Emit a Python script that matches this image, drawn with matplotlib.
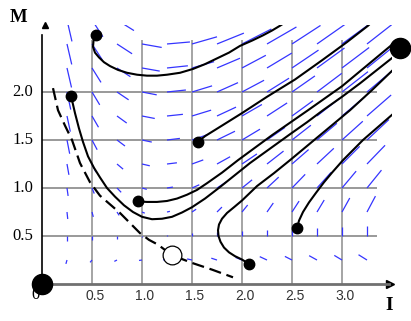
import numpy as np
import matplotlib.pyplot as plt
from matplotlib.collections import LineCollection
from matplotlib.patches import Rectangle

# direction field sample points
field_I = [0.25, 0.5, 0.75, 1.0, 1.25, 1.5, 1.75, 2.0, 2.25, 2.5, 2.75, 3.0, 3.25]
field_M = [0.25, 0.5, 0.75, 1.0, 1.25, 1.5, 1.75, 2.0, 2.25, 2.5, 2.75]

# segment angle (deg, on screen) and length (px), one row per field_M
field_ang = [
    [-106, -129, -153, -172, 176, 167, 162, 158, 155, 153, 151, 149, 148],
    [-90, -90, -90, -90, 90, 90, 90, 90, 90, 90, 90, 90, 90],
    [-84, -75, -57, -23, 13, 34, 45, 51, 55, 57, 59, 61, 62],
    [-82, -68, -46, -16, 9, 24, 33, 39, 43, 46, 48, 50, 51],
    [-80, -64, -40, -13, 7, 20, 29, 34, 38, 41, 43, 45, 46],
    [-79, -62, -37, -12, 7, 19, 26, 31, 35, 38, 40, 42, 43],
    [-78, -60, -36, -11, 6, 17, 25, 30, 33, 36, 38, 40, 41],
    [-78, -59, -34, -11, 6, 17, 24, 28, 32, 35, 37, 38, 40],
    [-77, -58, -33, -10, 6, 16, 23, 28, 31, 34, 36, 37, 39],
    [-77, -57, -33, -10, 5, 16, 22, 27, 30, 33, 35, 36, 38],
    [-77, -57, -32, -10, 5, 15, 22, 26, 30, 32, 34, 36, 37],
]
field_len = [
    [4, 3, 3, 3, 4, 5, 6, 7, 8, 8, 9, 9, 10],
    [5, 4, 3, 1, 1, 3, 4, 5, 6, 7, 8, 9, 10],
    [7, 5, 4, 3, 3, 5, 7, 9, 11, 13, 14, 16, 18],
    [8, 6, 6, 5, 6, 8, 11, 13, 16, 19, 21, 22, 23],
    [11, 9, 8, 8, 10, 12, 15, 18, 21, 22, 23, 25, 26],
    [14, 11, 10, 10, 13, 16, 20, 21, 22, 24, 26, 28, 30],
    [16, 13, 12, 13, 16, 20, 21, 23, 24, 26, 28, 30, 32],
    [18, 15, 14, 15, 19, 21, 23, 25, 26, 28, 31, 33, 34],
    [20, 17, 16, 18, 21, 23, 25, 27, 29, 32, 34, 34, 34],
    [21, 19, 18, 20, 23, 26, 29, 33, 34, 34, 34, 34, 34],
    [22, 20, 20, 23, 24, 27, 31, 34, 34, 34, 34, 34, 34],
]

# solution curves (I, M)
traj1_I = [0.54, 0.515, 0.51, 0.53, 0.57, 0.62, 0.68, 0.76, 0.85, 0.95, 1.05, 1.15, 1.25,
           1.38, 1.51, 1.63, 1.75, 1.87, 1.98, 2.10, 2.21, 2.30, 2.38, 2.41]
traj1_M = [2.59, 2.53, 2.47, 2.41, 2.36, 2.31, 2.27, 2.23, 2.20, 2.18, 2.17, 2.17, 2.18,
           2.20, 2.24, 2.29, 2.35, 2.41, 2.48, 2.535, 2.59, 2.64, 2.69, 2.71]
traj2_I = [0.29, 0.33, 0.37, 0.41, 0.46, 0.52, 0.58, 0.65, 0.73, 0.82, 0.91, 1.00, 1.10, 1.20,
           1.30, 1.40, 1.50, 1.63, 1.78, 1.93, 2.08, 2.28, 2.48, 2.65, 2.81, 3.00, 3.18, 3.52]
traj2_M = [1.96, 1.78, 1.62, 1.48, 1.33, 1.21, 1.11, 1.00, 0.91, 0.82, 0.75, 0.70, 0.675, 0.68,
           0.70, 0.745, 0.80, 0.89, 1.01, 1.135, 1.26, 1.41, 1.56, 1.685, 1.81, 1.95, 2.09, 2.37]
traj3_I = [1.56, 1.63, 1.80, 2.00, 2.25, 2.53, 2.80, 3.05, 3.26, 3.29]
traj3_M = [1.48, 1.54, 1.65, 1.78, 1.95, 2.13, 2.33, 2.52, 2.69, 2.72]
traj4_I = [0.96, 1.05, 1.15, 1.25, 1.35, 1.45, 1.55, 1.65, 1.80, 1.96, 2.30, 2.66, 3.00, 3.52]
traj4_M = [0.86, 0.855, 0.855, 0.865, 0.89, 0.93, 0.98, 1.05, 1.16, 1.29, 1.55, 1.81, 2.06, 2.51]
traj5_I = [2.07, 2.00, 1.93, 1.87, 1.82, 1.785, 1.765, 1.76, 1.77, 1.80, 1.85, 1.92, 2.00, 2.08,
           2.15, 2.32, 2.48, 2.78, 3.08, 3.30, 3.52]
traj5_M = [0.21, 0.255, 0.29, 0.33, 0.38, 0.44, 0.50, 0.56, 0.62, 0.68, 0.74, 0.80, 0.87, 0.95,
           1.02, 1.155, 1.29, 1.55, 1.81, 2.02, 2.24]
traj6_I = [2.55, 2.57, 2.61, 2.67, 2.74, 2.82, 2.90, 3.01, 3.21, 3.52]
traj6_M = [0.58, 0.66, 0.75, 0.85, 0.95, 1.06, 1.16, 1.29, 1.50, 1.78]
sep_I = [0.11, 0.16, 0.23, 0.30, 0.38, 0.48, 0.58, 0.68, 0.78, 0.88, 0.98, 1.07, 1.16, 1.30,
         1.50, 1.70, 1.91]
sep_M = [2.04, 1.81, 1.65, 1.50, 1.26, 1.06, 0.92, 0.83, 0.74, 0.635, 0.53, 0.46, 0.41, 0.30,
         0.22, 0.15, 0.07]

start_I = [0.54, 0.29, 1.56, 0.96, 2.07, 2.55]
start_M = [2.59, 1.96, 1.48, 0.86, 0.21, 0.58]
sink_I = [0.0, 3.58]
sink_M = [0.0, 2.46]
saddle_I, saddle_M = 1.30, 0.30

grid_I = [0.5, 1.0, 1.5, 2.0, 2.5, 3.0]
grid_M = [0.5, 1.0, 1.5, 2.0]
xtick_labels = ['0.5', '1.0', '1.5', '2.0', '2.5', '3.0']
ytick_labels = ['0.5', '1.0', '1.5', '2.0']

PX_I = 0.01        # one pixel in I units
PX_M = 1 / 96.0    # one pixel in M units

fig = plt.figure(figsize=(4.11, 3.21), dpi=100)
ax = fig.add_axes([0, 0, 1, 1])
ax.set_xlim(-0.42, 3.69)
ax.set_ylim(-0.385, 2.958)
ax.axis('off')

window = Rectangle((0, 0), 3.50, 2.70, transform=ax.transData)

# dotted background
gx, gy = np.meshgrid(np.arange(0.03, 3.66, 0.05), np.arange(0.04, 2.68, 0.052))
ax.scatter(gx.ravel(), gy.ravel(), s=0.4, marker='s', color='#c4c4c4', linewidths=0, zorder=0)

# grid
ax.vlines(grid_I, 0, 2.54, colors='#a4a4a4', lw=1.4, zorder=1)
ax.hlines(grid_M, 0, 3.35, colors='#999999', lw=1.4, zorder=1)

# direction field
segs = []
for j, m in enumerate(field_M):
    for i, v in enumerate(field_I):
        a = np.radians(field_ang[j][i])
        L = field_len[j][i]
        segs.append([(v, m), (v + L * np.cos(a) * PX_I, m + L * np.sin(a) * PX_M)])
lc = LineCollection(segs, colors='#3535ff', linewidths=0.9, zorder=2)
ax.add_collection(lc)
lc.set_clip_path(window)

# axes
ax.plot([0, 0], [0, 2.59], color='black', lw=1.2, zorder=3)
ax.plot([0, 3.47], [0, 0], color='#707070', lw=2.0, zorder=3)
ax.plot(0.03, 2.70, marker='^', ms=5, color='black', clip_on=False)
ax.plot(3.48, 0.0, marker='>', ms=6, color='black', clip_on=False)

# curves
for ti, tm in [(traj1_I, traj1_M), (traj2_I, traj2_M), (traj3_I, traj3_M),
               (traj4_I, traj4_M), (traj5_I, traj5_M), (traj6_I, traj6_M)]:
    ln, = ax.plot(ti, tm, color='black', lw=1.5, zorder=4,
                  solid_capstyle='round', solid_joinstyle='round')
    ln.set_clip_path(window)
ax.plot(sep_I, sep_M, color='black', lw=1.6, linestyle=(0, (5.5, 2.6)), zorder=4)

ax.plot(start_I, start_M, 'o', ms=7.5, color='black', zorder=5)
ax.plot(sink_I, sink_M, 'o', ms=14.5, color='black', zorder=5, clip_on=False)
ax.plot(saddle_I, saddle_M, 'o', ms=13.5, mfc='white', mec='black', mew=0.9, zorder=5)

# labels
serif = 'Liberation Serif'
for m, lab in zip(grid_M, ytick_labels):
    ax.text(-0.09, m, lab, ha='right', va='center', fontsize=12, family=serif)
for v, lab in zip(grid_I, xtick_labels):
    ax.text(v + 0.03, -0.125, lab, ha='center', va='center', fontsize=10,
            family='Liberation Sans', color='#333333')
ax.text(-0.07, -0.115, '0', ha='center', va='center', fontsize=12, family=serif)
ax.text(-0.23, 2.78, 'M', ha='center', va='center', fontsize=13.5, family=serif, fontweight='bold')
ax.text(3.47, -0.22, 'I', ha='center', va='center', fontsize=14, family=serif, fontweight='bold')

fig.savefig('out.png', dpi=100)
